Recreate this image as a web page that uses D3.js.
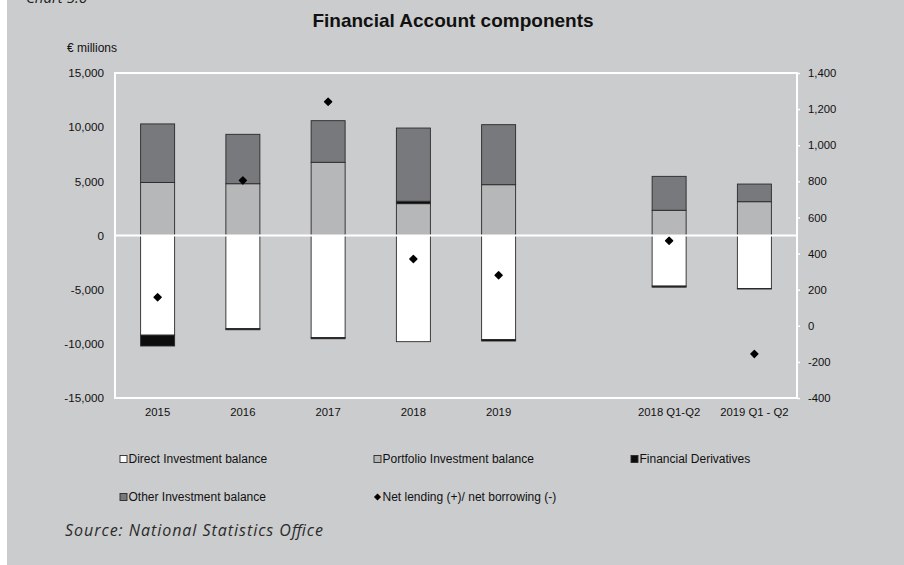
<!DOCTYPE html>
<html><head><meta charset="utf-8">
<script src="https://cdn.jsdelivr.net/npm/d3@7"></script>
<style>
html,body{margin:0;padding:0;background:#fff;}
svg{display:block;}
</style></head>
<body>
<svg id="chart" width="904" height="565"></svg>
<script>
const categories = ["2015","2016","2017","2018","2019","","2018 Q1-Q2","2019 Q1 - Q2"];
const directInvestment = [-9200, -8600, -9430, -9800, -9600, null, -4670, -4890];
const portfolioInvestment = [4900, 4780, 6760, 2940, 4690, null, 2330, 3120];
const financialDerivatives = [-1000, -100, -100, 220, -140, null, -100, -50];
const otherInvestment = [5400, 4560, 3840, 6760, 5540, null, 3130, 1630];
const netLending = [158, 805, 1241, 370, 280, null, 471, -156];
const leftTicks = [-15000,-10000,-5000,0,5000,10000,15000];
const rightTicks = [-400,-200,0,200,400,600,800,1000,1200,1400];

const seriesNames = ["Direct Investment balance","Portfolio Investment balance","Financial Derivatives","Other Investment balance"];
const seriesData = [directInvestment, portfolioInvestment, financialDerivatives, otherInvestment];
const seriesFill = ["#ffffff","#b5b7b9","#0d0d0d","#78797c"];
const bg = "#cbcccd";

const svg = d3.select("#chart");
svg.append("rect").attr("x",0).attr("y",0).attr("width",904).attr("height",565).attr("fill","#ffffff");
svg.append("rect").attr("x",7).attr("y",0).attr("width",897).attr("height",565).attr("fill",bg);

const font = "'Liberation Sans', Arial, sans-serif";
const fmt = v => d3.format(",")(v).replace("\u2212","-");

// header texts
svg.append("text").attr("x",26).attr("y",3).attr("font-family","'Open Sans', sans-serif").attr("font-style","italic")
  .attr("font-size",15).attr("fill","#222").text("Chart 5.6");
svg.append("text").attr("x",453).attr("y",27).attr("text-anchor","middle").attr("font-family",font)
  .attr("font-weight","bold").attr("font-size",19).attr("fill","#111").text("Financial Account components");
svg.append("text").attr("x",67).attr("y",52).attr("font-family",font).attr("font-size",12).attr("fill","#111").text("€ millions");

const L = 115, R = 797, T = 73, B = 398;
const x = d3.scaleBand().domain(d3.range(categories.length)).range([L,R]).paddingInner(0.6).paddingOuter(0.3);
const y = d3.scaleLinear().domain([-15000,15000]).range([B,T]);
const y2 = d3.scaleLinear().domain([-400,1400]).range([B,T]);

// plot border
svg.append("rect").attr("x",L).attr("y",T).attr("width",R-L).attr("height",B-T)
  .attr("fill","none").attr("stroke","#ffffff").attr("stroke-width",2);

// stacked data
const rows = categories.map((c,i)=>{
  const o = {i:i, cat:c};
  seriesNames.forEach((s,k)=>{ o[s] = seriesData[k][i] == null ? 0 : seriesData[k][i]; });
  o.valid = directInvestment[i] != null;
  return o;
});
const stack = d3.stack().keys(seriesNames).offset(d3.stackOffsetDiverging);
const stacked = stack(rows);

const bw = 34;
stacked.forEach((layer,k)=>{
  svg.append("g").selectAll("rect").data(layer.filter(d=>d.data.valid && d[1]!==d[0])).join("rect")
    .attr("x", d => x(d.data.i) + x.bandwidth()/2 - bw/2)
    .attr("width", bw)
    .attr("y", d => y(Math.max(d[0],d[1])))
    .attr("height", d => Math.abs(y(d[0]) - y(d[1])))
    .attr("fill", seriesFill[k])
    .attr("stroke", "#2a2a2a").attr("stroke-width", 0.9);
});

// zero line
svg.append("line").attr("x1",L).attr("x2",R).attr("y1",y(0)).attr("y2",y(0))
  .attr("stroke","#ffffff").attr("stroke-width",2);

// axes
const leftAxis = d3.axisLeft(y).tickValues(leftTicks).tickSize(0).tickPadding(11).tickFormat(fmt);
const gl = svg.append("g").attr("transform",`translate(${L},0)`).call(leftAxis);
gl.select(".domain").remove();
gl.selectAll("text").attr("font-family",font).attr("font-size",11.7).attr("fill","#111");

const rightAxis = d3.axisRight(y2).tickValues(rightTicks).tickSize(3).tickPadding(8).tickFormat(fmt);
const gr = svg.append("g").attr("transform",`translate(${R},0)`).call(rightAxis);
gr.select(".domain").remove();
gr.selectAll("line").attr("stroke","#ffffff").attr("stroke-width",1.5);
gr.selectAll("text").attr("font-family",font).attr("font-size",11.3).attr("fill","#111");

// category labels
svg.append("g").selectAll("text").data(rows.filter(r=>r.valid)).join("text")
  .attr("x", d => x(d.i) + x.bandwidth()/2).attr("y", 416)
  .attr("text-anchor","middle").attr("font-family",font).attr("font-size",11.3).attr("fill","#111")
  .text(d=>d.cat);

// net lending markers
const diamond = d3.symbol().type(d3.symbolSquare).size(26);
svg.append("g").selectAll("path").data(netLending.map((v,i)=>({v,i})).filter(d=>d.v!=null)).join("path")
  .attr("transform", d=>`translate(${x(d.i)+x.bandwidth()/2},${y2(d.v)}) rotate(45)`)
  .attr("d", diamond).attr("fill","#000").attr("stroke","#000").attr("stroke-width",1.2).attr("stroke-linejoin","round");

// legend
const legendItems = [
  {name: seriesNames[0], type:"rect", fill: seriesFill[0], x:120, y:459},
  {name: seriesNames[1], type:"rect", fill: seriesFill[1], x:374, y:459},
  {name: seriesNames[2], type:"rect", fill: seriesFill[2], x:631, y:459},
  {name: seriesNames[3], type:"rect", fill: seriesFill[3], x:120, y:497},
  {name: "Net lending (+)/ net borrowing (-)", type:"diamond", fill:"#000", x:374, y:497}
];
const lg = svg.append("g");
legendItems.forEach(it=>{
  if (it.type==="rect") {
    lg.append("rect").attr("x",it.x).attr("y",it.y-3.5).attr("width",7).attr("height",7)
      .attr("fill",it.fill).attr("stroke","#2a2a2a").attr("stroke-width",0.9);
  } else {
    lg.append("path").attr("transform",`translate(${it.x+3.5},${it.y}) rotate(45)`).attr("d",d3.symbol().type(d3.symbolSquare).size(16))
      .attr("fill","#000").attr("stroke","#000").attr("stroke-width",1);
  }
  lg.append("text").attr("x",it.x+8.5).attr("y",it.y+4.2).attr("font-family",font).attr("font-size",12).attr("fill","#111").text(it.name);
});

// source
svg.append("text").attr("x",65).attr("y",536).attr("font-family","'Open Sans', sans-serif").attr("font-style","italic")
  .attr("font-size",16).attr("fill","#2a2a2a")
  .attr("textLength",258).attr("lengthAdjust","spacing")
  .text("Source: National Statistics Office");
</script>
</body></html>
